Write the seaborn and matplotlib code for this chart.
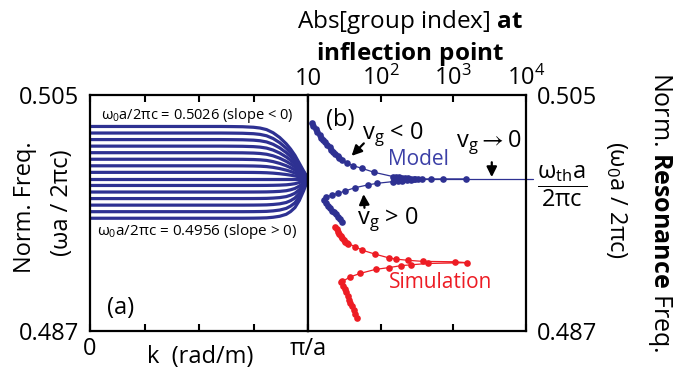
import matplotlib
matplotlib.use("Agg")
import matplotlib.pyplot as plt
import pandas as pd
import seaborn as sns

# ---- data ----
# (a) band curves: omega0 a / 2 pi c of each curve, all bending into the threshold at k = pi/a
w0_values = [0.4956, 0.4961, 0.4966, 0.4971, 0.4976, 0.4981, 0.4986, 0.4991,
             0.4996, 0.5001, 0.5006, 0.5011, 0.5016, 0.5021, 0.5026]
w_th = 0.4986
# k in units of pi/a and the fraction of (w0 - w_th) still left at that k
k_frac = [0, 0.5, 0.6, 0.65, 0.7, 0.75, 0.78, 0.81, 0.84, 0.87, 0.9, 0.92,
          0.94, 0.96, 0.98, 0.99, 1.0]
bend_upper = [1, 1, 1, 0.998, 0.995, 0.985, 0.97, 0.94, 0.88, 0.79, 0.67, 0.57,
              0.45, 0.3, 0.15, 0.08, 0]
bend_lower = [1, 1, 1, 1, 1, 0.998, 0.995, 0.99, 0.975, 0.95, 0.9, 0.83, 0.73,
              0.55, 0.3, 0.15, 0]

# (b) model, vg < 0 branch (runs on along the threshold)
model_up_x = [11.2, 11.9, 12.7, 13.5, 14.4, 15.3, 16.3, 17.4, 18.5, 19.8, 21.0,
              22.4, 23.9, 25.5, 27.1, 29.1, 34.1, 42.0, 54.8, 81.7, 148, 163,
              179, 196, 216, 238, 261, 288, 327, 374, 493, 728, 1479]
model_up_y = [0.50284, 0.50262, 0.50237, 0.50216, 0.50195, 0.50174, 0.50155,
              0.50139, 0.50119, 0.50100, 0.50082, 0.50065, 0.50048, 0.50033,
              0.50019, 0.50004, 0.49979, 0.49961, 0.49941, 0.49910, 0.49878,
              0.49875, 0.49872, 0.49869, 0.49867, 0.49865, 0.49863, 0.49862,
              0.49861, 0.49860, 0.49860, 0.49860, 0.49860]
# (b) model, vg > 0 branch
model_lo_x = [300, 262, 228, 198, 172, 150, 88, 66.4, 44.4, 32.3, 26.1, 21.6,
              17.5, 16.6, 17.7, 18.9, 20.1, 21.4, 22.8, 24.3, 25.9, 27.5, 29.4]
model_lo_y = [0.49856, 0.49853, 0.49850, 0.49846, 0.49843, 0.49840, 0.49826,
              0.49814, 0.49793, 0.49768, 0.49750, 0.49737, 0.49720, 0.49699,
              0.49676, 0.49657, 0.49638, 0.49619, 0.49604, 0.49589, 0.49573,
              0.49554, 0.49535]
# (b) simulation
sim_x = [23.5, 24.7, 25.9, 27.1, 28.4, 29.8, 31.3, 32.8, 34.4, 35.9, 44.4, 56.2,
         82.8, 129, 163, 240, 382, 1054, 1528, 444, 264, 188, 132, 84.9, 52.0,
         37.9, 29.8, 28.9, 30.3, 31.8, 33.3, 35.0, 36.7, 38.4, 40.3, 42.3, 44.4,
         46.8]
sim_y = [0.49496, 0.49476, 0.49457, 0.49439, 0.49422, 0.49407, 0.49393, 0.49382,
         0.49373, 0.49367, 0.49343, 0.49316, 0.49287, 0.49258, 0.49248, 0.49239,
         0.49231, 0.49228, 0.49221, 0.49215, 0.49205, 0.49198, 0.49184, 0.49170,
         0.49139, 0.49112, 0.49078, 0.49074, 0.49047, 0.49020, 0.48994, 0.48967,
         0.48940, 0.48914, 0.48887, 0.48860, 0.48830, 0.48797]

BLUE = "#2e3192"
RED = "#ed1c24"

sns.set_theme(style="white")
plt.rcParams["font.family"] = ["Open Sans", "DejaVu Sans"]
plt.rcParams["mathtext.fontset"] = "custom"
plt.rcParams["mathtext.rm"] = "Open Sans"
plt.rcParams["mathtext.it"] = "Open Sans:italic"
plt.rcParams["mathtext.bf"] = "Open Sans:bold"
for key in ("text.color", "axes.labelcolor", "xtick.color", "ytick.color"):
    plt.rcParams[key] = "black"

rows = []
for w0 in w0_values:
    prof = bend_upper if w0 > w_th else bend_lower
    for k, b in zip(k_frac, prof):
        rows.append({"w0": w0, "k": k, "freq": w_th + (w0 - w_th) * b})
df_a = pd.DataFrame(rows)

df_model = pd.concat([
    pd.DataFrame({"x": model_up_x, "y": model_up_y, "branch": "up"}),
    pd.DataFrame({"x": model_lo_x, "y": model_lo_y, "branch": "lo"}),
])
df_sim = pd.DataFrame({"x": sim_x, "y": sim_y, "branch": "sim"})

fig = plt.figure(figsize=(6.85, 3.78), dpi=100)
ax_a = fig.add_axes([90 / 685, 47 / 378, 218 / 685, 236 / 378])
ax_b = fig.add_axes([308 / 685, 47 / 378, 218 / 685, 236 / 378])

# ---- panel (a) ----
sns.lineplot(data=df_a, x="k", y="freq", units="w0", estimator=None, sort=False,
             color=BLUE, lw=2.3, ax=ax_a)
ax_a.set_xlim(0, 1)
ax_a.set_ylim(0.487, 0.505)
ax_a.set_xticks([0, 0.25, 0.5, 0.75, 1])
ax_a.set_xticklabels(["0", "", "", "", "π/a"])
ax_a.set_yticks([0.487, 0.505])
ax_a.set_yticklabels(["0.487", "0.505"])
ax_a.tick_params(axis="x", direction="in", top=True, bottom=True, length=5,
                 width=1.5, labelsize=17, pad=4)
ax_a.tick_params(axis="y", length=0, labelsize=17, pad=8)
ax_a.set_xlabel("")
ax_a.set_ylabel("")
ax_a.text(0.49, 0.915, "ω$_0$a/2πc = 0.5026 (slope < 0)", transform=ax_a.transAxes,
          ha="center", va="center", fontsize=10.5)
ax_a.text(0.49, 0.42, "ω$_0$a/2πc = 0.4956 (slope > 0)", transform=ax_a.transAxes,
          ha="center", va="center", fontsize=11)
ax_a.text(0.142, 0.097, "(a)", transform=ax_a.transAxes, ha="center", va="center",
          fontsize=17)

# ---- panel (b) ----
sns.lineplot(data=df_model, x="x", y="y", units="branch", estimator=None, sort=False,
             color=BLUE, lw=0.9, marker="o", markersize=4.8, markeredgewidth=0, ax=ax_b)
sns.lineplot(data=df_sim, x="x", y="y", units="branch", estimator=None, sort=False,
             color=RED, lw=0.9, marker="o", markersize=4.8, markeredgewidth=0, ax=ax_b)
ax_b.axhline(w_th, xmin=0.5, xmax=1.03, color=BLUE, lw=0.9, clip_on=False)
ax_b.set_xscale("log")
ax_b.set_xlim(10, 1e4)
ax_b.set_ylim(0.487, 0.505)
ax_b.set_xticks([10, 100, 1000, 10000])
ax_b.set_xticklabels(["10", "10$^2$", "10$^3$", "10$^4$"])
ax_b.minorticks_off()
ax_b.tick_params(axis="x", which="major", direction="in", top=True, bottom=True,
                 labeltop=True, labelbottom=False, length=5, width=1.5,
                 labelsize=17, pad=3)
ax_b.yaxis.tick_right()
ax_b.set_yticks([0.487, w_th, 0.505])
ax_b.set_yticklabels(["0.487", r"$\dfrac{\mathregular{ω_{th}a}}{\mathregular{2πc}}$", "0.505"])
ax_b.tick_params(axis="y", length=0, labelsize=17, pad=8)
ax_b.set_xlabel("")
ax_b.set_ylabel("")

ax_b.text(0.147, 0.894, "(b)", transform=ax_b.transAxes, ha="center", va="center",
          fontsize=17)
ax_b.text(0.25, 0.83, r"v$_\mathregular{g}$ < 0", transform=ax_b.transAxes,
          ha="left", va="center", fontsize=17)
ax_b.text(0.68, 0.80, r"$\mathregular{v_g \rightarrow 0}$", transform=ax_b.transAxes,
          ha="left", va="center", fontsize=17)
ax_b.text(0.225, 0.47, r"v$_\mathregular{g}$ > 0", transform=ax_b.transAxes,
          ha="left", va="center", fontsize=17)
ax_b.text(0.507, 0.725, "Model", transform=ax_b.transAxes, ha="center", va="center",
          fontsize=15, color="#3b3fa6")
ax_b.text(0.61, 0.206, "Simulation", transform=ax_b.transAxes, ha="center",
          va="center", fontsize=15, color=RED)

arrow = dict(arrowstyle="-|>,head_length=0.5,head_width=0.25", color="black",
             lw=1.6, mutation_scale=12, shrinkA=0, shrinkB=0)
ax_b.annotate("", xy=(0.200, 0.742), xytext=(0.256, 0.795),
              xycoords="axes fraction", textcoords="axes fraction", arrowprops=arrow)
ax_b.annotate("", xy=(0.255, 0.580), xytext=(0.259, 0.522),
              xycoords="axes fraction", textcoords="axes fraction", arrowprops=arrow)
ax_b.annotate("", xy=(0.843, 0.652), xytext=(0.843, 0.715),
              xycoords="axes fraction", textcoords="axes fraction", arrowprops=arrow)

for ax in (ax_a, ax_b):
    for sp in ax.spines.values():
        sp.set_color("black")
        sp.set_linewidth(1.6)

# ---- axis titles ----
fig.text(25 / 685, 1 - 207 / 378, "Norm. Freq.", rotation=90, ha="center",
         va="center", fontsize=17)
fig.text(62 / 685, 1 - 203 / 378, "(ωa / 2πc)", rotation=90, ha="center",
         va="center", fontsize=17)
fig.text(200 / 685, 1 - 357 / 378, "k  (rad/m)", ha="center", va="center",
         fontsize=17)
fig.text(410 / 685, 1 - 22 / 378, r"Abs[group index] $\mathbf{at}$", ha="center",
         va="center", fontsize=17.5)
fig.text(410 / 685, 1 - 54 / 378, r"$\mathbf{inflection\ point}$", ha="center",
         va="center", fontsize=17.5)
fig.text(660 / 685, 1 - 212 / 378, r"Norm. $\mathbf{Resonance}$ Freq.", rotation=-90,
         ha="center", va="center", fontsize=18)
fig.text(616 / 685, 1 - 200 / 378, "(ω$_0$a / 2πc)", rotation=-90, ha="center",
         va="center", fontsize=17)

fig.savefig("out.png", dpi=100)
